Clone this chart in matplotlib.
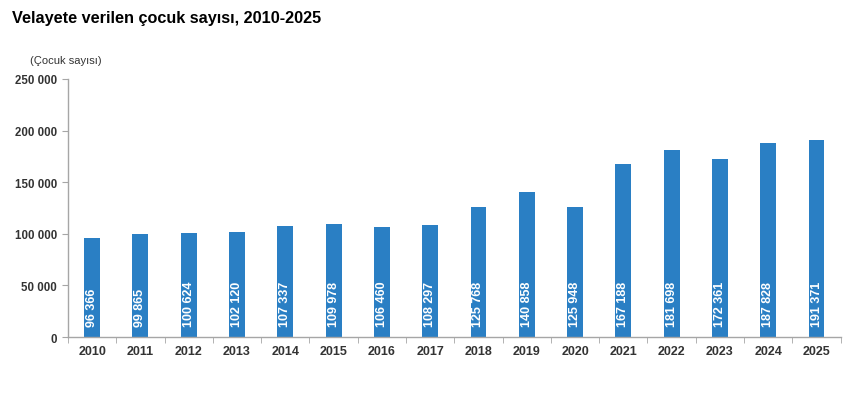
import matplotlib
matplotlib.use("Agg")
from matplotlib import pyplot as plt
from matplotlib.ticker import FuncFormatter, FixedLocator

# Data
years = [str(y) for y in range(2010, 2026)]
children = [96366, 99865, 100624, 102120, 107337, 109978, 106460, 108297,
            125768, 140858, 125948, 167188, 181698, 172361, 187828, 191371]

BAR_COLOR = "#2a7fc4"
TEXT_COLOR = "#333333"
AXIS_COLOR = "#a6a6a6"

plt.rcParams["font.family"] = ["Liberation Sans", "DejaVu Sans"]


def space_thousands(v, pos=None):
    return "{:,}".format(int(v)).replace(",", " ")


fig = plt.figure(figsize=(8.5, 4.02), dpi=100)
ax = fig.add_axes([0.08, 0.159, 0.909, 0.642])

x = list(range(len(years)))
ax.bar(x, children, width=0.33, color=BAR_COLOR, zorder=2)

# Value labels inside the bars
for i, v in enumerate(children):
    ax.annotate(space_thousands(v), xy=(i, 0), xytext=(0, 8),
                textcoords="offset points", rotation=90,
                ha="center", va="bottom", color="white",
                fontsize=9, fontweight="bold")

# Axes
ax.set_xlim(-0.5, len(years) - 0.5)
ax.set_ylim(0, 250000)
ax.set_yticks(range(0, 250001, 50000))
ax.yaxis.set_major_formatter(FuncFormatter(space_thousands))

ax.set_xticks(x)
ax.set_xticklabels(years)
ax.xaxis.set_minor_locator(FixedLocator([i - 0.5 for i in range(len(years) + 1)]))
ax.tick_params(axis="x", which="major", length=0, pad=6)
ax.tick_params(axis="x", which="minor", length=4, direction="out",
               color=AXIS_COLOR)
ax.tick_params(axis="y", length=4, color=AXIS_COLOR, pad=4)

for label in ax.get_xticklabels():
    label.set_fontsize(9)
    label.set_fontweight("bold")
    label.set_color(TEXT_COLOR)
for label in ax.get_yticklabels():
    label.set_fontsize(8.3)
    label.set_fontweight("bold")
    label.set_color(TEXT_COLOR)

for side in ["top", "right"]:
    ax.spines[side].set_visible(False)
for side in ["left", "bottom"]:
    ax.spines[side].set_color(AXIS_COLOR)
    ax.spines[side].set_linewidth(1)

# Titles
fig.text(0.014, 0.955, "Velayete verilen çocuk sayısı, 2010-2025",
         fontsize=11.7, fontweight="bold", color="black", va="center")
fig.text(0.035, 0.848, "(Çocuk sayısı)", fontsize=8, color=TEXT_COLOR,
         va="center")

fig.savefig("out.png", dpi=100, facecolor="white")
